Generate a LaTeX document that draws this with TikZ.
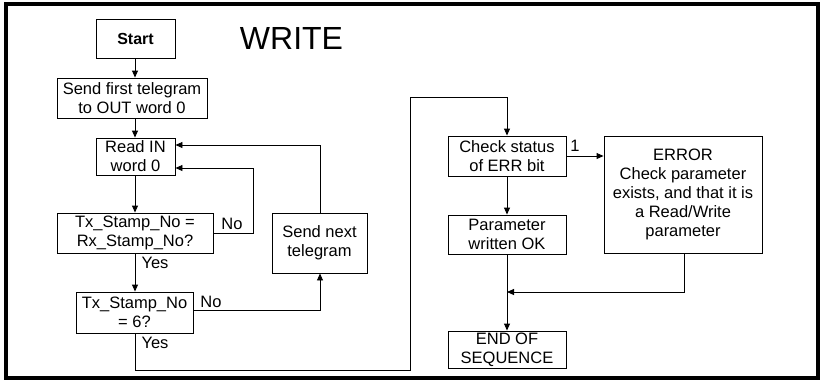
\documentclass[tikz,border=0pt]{standalone}
\usepackage{fontspec}
\setmainfont{Liberation Sans}
\usetikzlibrary{arrows.meta}
\begin{document}
\begin{tikzpicture}[x=1pt,y=-1pt,
  box/.style={draw,line width=0.9pt,inner sep=0pt,align=center,
    font=\fontsize{16.5}{19}\selectfont},
  lbl/.style={inner sep=0pt,font=\fontsize{16.5}{19}\selectfont},
  conn/.style={line width=0.9pt},
  arr/.style={conn,-{Triangle[length=7pt,width=6pt]}}]
\useasboundingbox (0,0) rectangle (820,381);
\draw[line width=4pt] (6,4) rectangle (818,378);
\node[lbl,font=\fontsize{32}{36}\selectfont] (title) at (291.5,38) {WRITE};
\node[box,minimum width=79pt,minimum height=39pt,font=\bfseries\fontsize{16}{19}\selectfont] (start) at (135.5,38.5) {Start};
\node[box,minimum width=150pt,minimum height=40pt] (send) at (132,98) {Send first telegram\\to OUT word 0};
\node[box,minimum width=79pt,minimum height=37pt] (read) at (135.5,156.5) {Read IN\\word 0};
\node[box,minimum width=156pt,minimum height=40pt] (tx1) at (135,233) {Tx\_Stamp\_No =\\Rx\_Stamp\_No?};
\node[box,minimum width=117pt,minimum height=41pt] (tx6) at (134.5,312.5) {Tx\_Stamp\_No\\= 6?};
\node[box,minimum width=95pt,minimum height=60pt] (next) at (319.5,243) {Send next\\telegram};
\node[box,minimum width=118pt,minimum height=40pt] (check) at (507,156) {Check status\\of ERR bit};
\node[box,minimum width=158pt,minimum height=117pt] (err) at (683,194.5) {ERROR\\Check parameter\\exists, and that it is\\a Read/Write\\parameter};
\node[box,minimum width=118pt,minimum height=39pt] (param) at (507,234.5) {Parameter\\written OK};
\node[box,minimum width=118pt,minimum height=37pt] (end) at (507,349.5) {END OF\\SEQUENCE};
\node[lbl] (no1) at (232,224) {No};
\node[lbl] (yes1) at (155,263) {Yes};
\node[lbl] (no2) at (211,302) {No};
\node[lbl] (yes2) at (155,343) {Yes};
\node[lbl] (one) at (575,146) {1};
\coordinate (c1) at (253,233);
\coordinate (c2) at (253,168);
\coordinate (c3) at (320,310);
\coordinate (c4) at (320,145);
\coordinate (c5) at (135,370);
\coordinate (c6) at (410,370);
\coordinate (c7) at (410,97);
\coordinate (c8) at (507,97);
\coordinate (c9) at (684,292);
\coordinate (c10) at (507,292);
\draw[arr] (start.south -| 135,0) -- (send.north -| 135,0);
\draw[arr] (send.south -| 135,0) -- (read.north -| 135,0);
\draw[arr] (read.south -| 135,0) -- (tx1.north -| 135,0);
\draw[arr] (tx1.east |- c1) -- (c1) -- (c2) -- (read.east |- c2);
\draw[arr] (tx1.south -| 135,0) -- (tx6.north -| 135,0);
\draw[arr] (tx6.east |- c3) -- (c3) -- (next.south -| c3);
\draw[arr] (next.north -| c4) -- (c4) -- (read.east |- c4);
\draw[arr] (tx6.south -| c5) -- (c5) -- (c6) -- (c7) -- (c8) -- (check.north);
\draw[arr] (check.east) -- (err.west |- check.east);
\draw[arr] (check.south) -- (param.north);
\draw[arr] (param.south) -- (end.north);
\draw[arr] (err.south -| c9) -- (c9) -- (c10);
\end{tikzpicture}
\end{document}
